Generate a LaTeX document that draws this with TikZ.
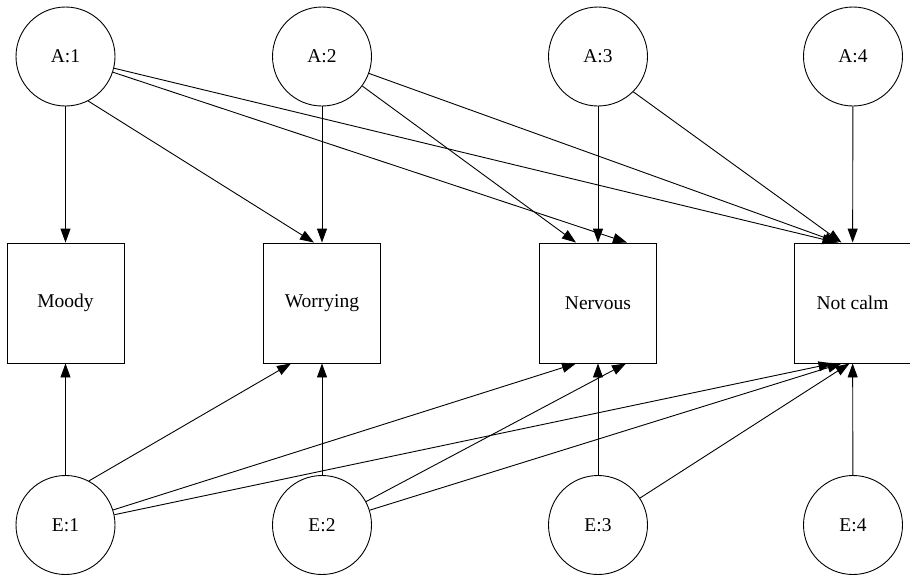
\documentclass[tikz,border=0pt]{standalone}
\usepackage{fontspec}
\setmainfont{Liberation Serif}
\usetikzlibrary{arrows.meta}

\tikzset{
  latent/.style={draw, circle, line width=0.9pt, minimum size=99pt, inner sep=0pt, font=\fontsize{19.5}{23}\selectfont},
  item/.style={draw, rectangle, line width=0.9pt, minimum width=117pt, minimum height=120pt, font=\fontsize{19.5}{23}\selectfont},
  arr/.style={line width=0.9pt, -{Triangle[length=14pt,width=10pt]}}
}

\begin{document}
\begin{tikzpicture}[x=1pt, y=-1pt]
				\useasboundingbox (0,0) rectangle (910,582);
				\node[latent] (a1) at (65.5,56.5) {A:1};
				\node[latent] (a2) at (322,56.5) {A:2};
				\node[latent] (a3) at (598,56.5) {A:3};
				\node[latent] (a4) at (853,56.5) {A:4};
				\node[item] (moody) at (65.5,303) {Moody};
				\node[item] (worrying) at (322,303) {Worrying};
				\node[item] (nervous) at (598,303) {Nervous};
				\node[item] (notcalm) at (852.5,303) {Not calm};
				\node[latent] (e1) at (65.5,525) {E:1};
				\node[latent] (e2) at (322,525) {E:2};
				\node[latent] (e3) at (598,525) {E:3};
				\node[latent] (e4) at (853,525) {E:4};
				
				% loadings of the A factors
				\draw[arr] (a1) -- (moody);
				\draw[arr] (a1.-63) -- ([xshift=-8pt]worrying.north);
				\draw[arr] (a1) -- ([xshift=29pt]nervous.north);
				\draw[arr] (a1) -- ([xshift=-16pt]notcalm.north);
				\draw[arr] (a2) -- (worrying);
				\draw[arr] (a2) -- ([xshift=-22pt]nervous.north);
				\draw[arr] (a2) -- ([xshift=-14pt]notcalm.north);
				\draw[arr] (a3) -- (nervous);
				\draw[arr] (a3.-45) -- ([xshift=-11pt]notcalm.north);
				\draw[arr] (a4) -- (notcalm);
				
				% loadings of the E factors
				\draw[arr] (e1) -- (moody);
				\draw[arr] (e1.62) -- ([xshift=-31pt]worrying.south);
				\draw[arr] (e1) -- ([xshift=-22pt]nervous.south);
				\draw[arr] (e1) -- ([xshift=-20pt]notcalm.south);
				\draw[arr] (e2) -- (worrying);
				\draw[arr] (e2) -- ([xshift=28pt]nervous.south);
				\draw[arr] (e2) -- ([xshift=-11pt]notcalm.south);
				\draw[arr] (e3) -- (nervous);
				\draw[arr] (e3) -- ([xshift=-3pt]notcalm.south);
				\draw[arr] (e4) -- (notcalm);
\end{tikzpicture}
\end{document}
